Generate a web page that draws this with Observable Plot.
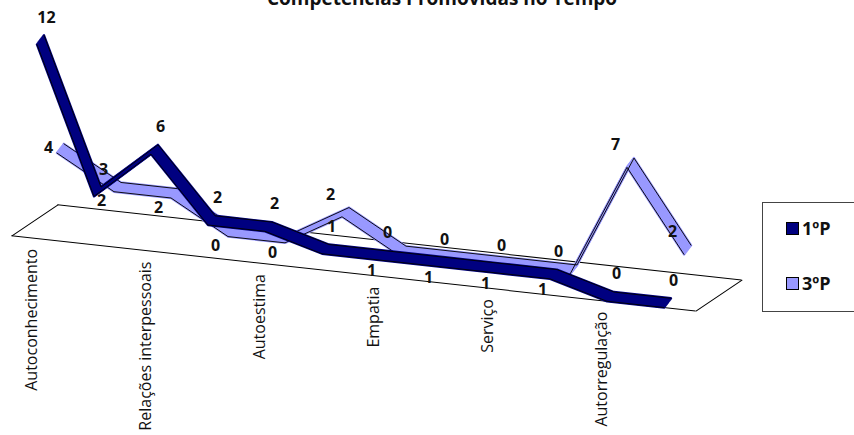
<!DOCTYPE html>
<html><head><meta charset="utf-8">
<script src="https://cdn.jsdelivr.net/npm/d3@7"></script>
<script src="https://cdn.jsdelivr.net/npm/@observablehq/plot@0.6"></script>
<style>
body{margin:0;background:#fff;}
#wrap{position:relative;width:854px;height:435px;overflow:hidden;font-family:"Open Sans",sans-serif;color:#111;}
#title{position:absolute;left:0;width:884px;top:-11px;line-height:19px;text-align:center;font-weight:bold;font-size:19px;}
#chart{position:absolute;left:0;top:0;}
#legend{position:absolute;left:762px;top:202px;width:120px;height:110px;border:1.5px solid #444;box-sizing:border-box;}
.item{position:absolute;left:23px;height:17px;line-height:17px;font-weight:bold;font-size:18px;white-space:nowrap;}
.sw{display:inline-block;width:11px;height:11px;border:1px solid #000;margin-right:3px;vertical-align:0px;}
</style></head>
<body><div id="wrap"><div id="chart"></div><div id="title"></div><div id="legend"></div></div>
<script>
const title = "Competências Promovidas no Tempo";
const seriesNames = ["1ºP", "3ºP"];
const values1P = [12, 3, 6, 2, 2, 1, 1, 1, 1, 1, 0, 0];
const values3P = [4, 2, 2, 0, 0, 2, 0, 0, 0, 0, 7, 2];
const tickLabels = ["Autoconhecimento", "Relações interpessoais", "Autoestima", "Empatia", "Serviço", "Autorregulação"];
const colors = ["#000080", "#9999FF"];

const n = values1P.length;
const idx = d3.range(n);
const rows1 = idx.map(i => ({i, v: values1P[i], o: values3P[i]}));
const rows3 = idx.map(i => ({i, v: values3P[i], o: values1P[i]}));
const xDomain = [-0.5, n - 0.5];
const step = 57;
const skew = 0.11;

// label placement rules (avoid collisions between the two series' labels)
const darkBelowAt = (v, o) => v <= 1 && o < v;
const darkBelow = d => darkBelowAt(d.v, d.o);
const lightBelow = d => d.i > 0 && d.o > d.v && !darkBelowAt(d.o, d.v);

function ribbon(rows, color, bx, by, ddx, ddy) {
  const marks = [];
  const N = 9;
  for (let k = 0; k <= N; k++) {
    const t = k / N - 0.5;
    marks.push(Plot.line(rows, {x: "i", y: "v", dx: bx + t * ddx, dy: by + t * ddy, stroke: color, strokeWidth: 2.4}));
  }
  marks.push(Plot.line(rows, {x: "i", y: "v", dx: bx - 0.5 * ddx, dy: by - 0.5 * ddy, stroke: "#000", strokeWidth: 0.9}));
  marks.push(Plot.line(rows, {x: "i", y: "v", dx: bx + 0.5 * ddx, dy: by + 0.5 * ddy, stroke: "#000", strokeWidth: 0.9}));
  return marks;
}
const side = {draw(ctx, l) { ctx.moveTo(0, 0); ctx.lineTo(0, -l); }};
const lab = {x: "i", y: "v", text: d => String(d.v), fontSize: 16, fontWeight: "bold", fill: "#111"};

const plot = Plot.plot({
  width: 854, height: 435,
  marginLeft: 0, marginRight: 0, marginTop: 0, marginBottom: 0,
  x: {domain: xDomain, range: [11.5, 11.5 + n * step], axis: null},
  y: {domain: [0, 12], range: [234, 40], axis: null},
  style: {fontFamily: "'Open Sans', sans-serif", color: "#111", background: "transparent"},
  marks: [
    Plot.ruleY([0], {x1: xDomain[0], x2: xDomain[1], stroke: "#000", strokeWidth: 1}),
    Plot.ruleY([0], {x1: xDomain[0], x2: xDomain[1], dx: 46, dy: -36, stroke: "#000", strokeWidth: 1}),
    Plot.vector(xDomain, {x: d => d, y: 0, length: 58.4, rotate: 52, anchor: "start", shape: side, stroke: "#000", strokeWidth: 1}),
    ...ribbon(rows3, colors[1], 20, -28, 7, -10),
    ...ribbon(rows1, colors[0], 0, -5, 7, -10),
    Plot.text(rows3, {...lab, filter: d => !lightBelow(d) && d.i > 0, dx: 5, dy: -44}),
    Plot.text(rows3, {...lab, filter: d => d.i === 0, dx: 8, dy: -27}),
    Plot.text(rows3, {...lab, filter: lightBelow, dx: 4, dy: -12}),
    Plot.text(rows1, {...lab, filter: d => !darkBelow(d), dx: 6, dy: -28}),
    Plot.text(rows1, {...lab, filter: darkBelow, dx: -11, dy: 12}),
    Plot.text(tickLabels, {x: (d, k) => k * 2, y: 0, text: d => d, rotate: -90, textAnchor: "end", dx: -9, dy: 11, fontSize: 16, fill: "#111"})
  ]
});

// oblique tilt of the drawing; texts are moved along the tilt but stay upright
const ns = "http://www.w3.org/2000/svg";
const g = document.createElementNS(ns, "g");
g.setAttribute("transform", `matrix(1,${skew},0,1,0,0)`);
const re = /translate\(\s*([-\d.e]+)[ ,]\s*([-\d.e]+)\s*\)/;
[...plot.childNodes].forEach(c => {
  if (c.tagName === "style") return;
  if (c.getAttribute && c.getAttribute("aria-label") === "text") {
    const gm = (c.getAttribute("transform") || "").match(re);
    const gx = gm ? +gm[1] : 0;
    c.querySelectorAll("text").forEach(t => {
      const tr = t.getAttribute("transform");
      const m = tr && tr.match(re);
      if (m) {
        const X = +m[1], Y = +m[2];
        t.setAttribute("transform", tr.replace(re, `translate(${X},${Y + skew * (X + gx)})`));
      } else {
        const X = +(t.getAttribute("x") || 0), Y = +(t.getAttribute("y") || 0);
        t.setAttribute("y", Y + skew * (X + gx));
      }
    });
    return;
  }
  g.appendChild(c);
});
plot.insertBefore(g, plot.querySelector('g[aria-label="text"]'));
document.getElementById("chart").appendChild(plot);

document.getElementById("title").textContent = title;
const legend = document.getElementById("legend");
seriesNames.forEach((s, k) => {
  const it = document.createElement("div");
  it.className = "item";
  it.style.top = (17 + k * 55) + "px";
  const sw = document.createElement("span");
  sw.className = "sw";
  sw.style.background = colors[k];
  it.appendChild(sw);
  it.appendChild(document.createTextNode(s));
  legend.appendChild(it);
});
</script>
</body></html>
